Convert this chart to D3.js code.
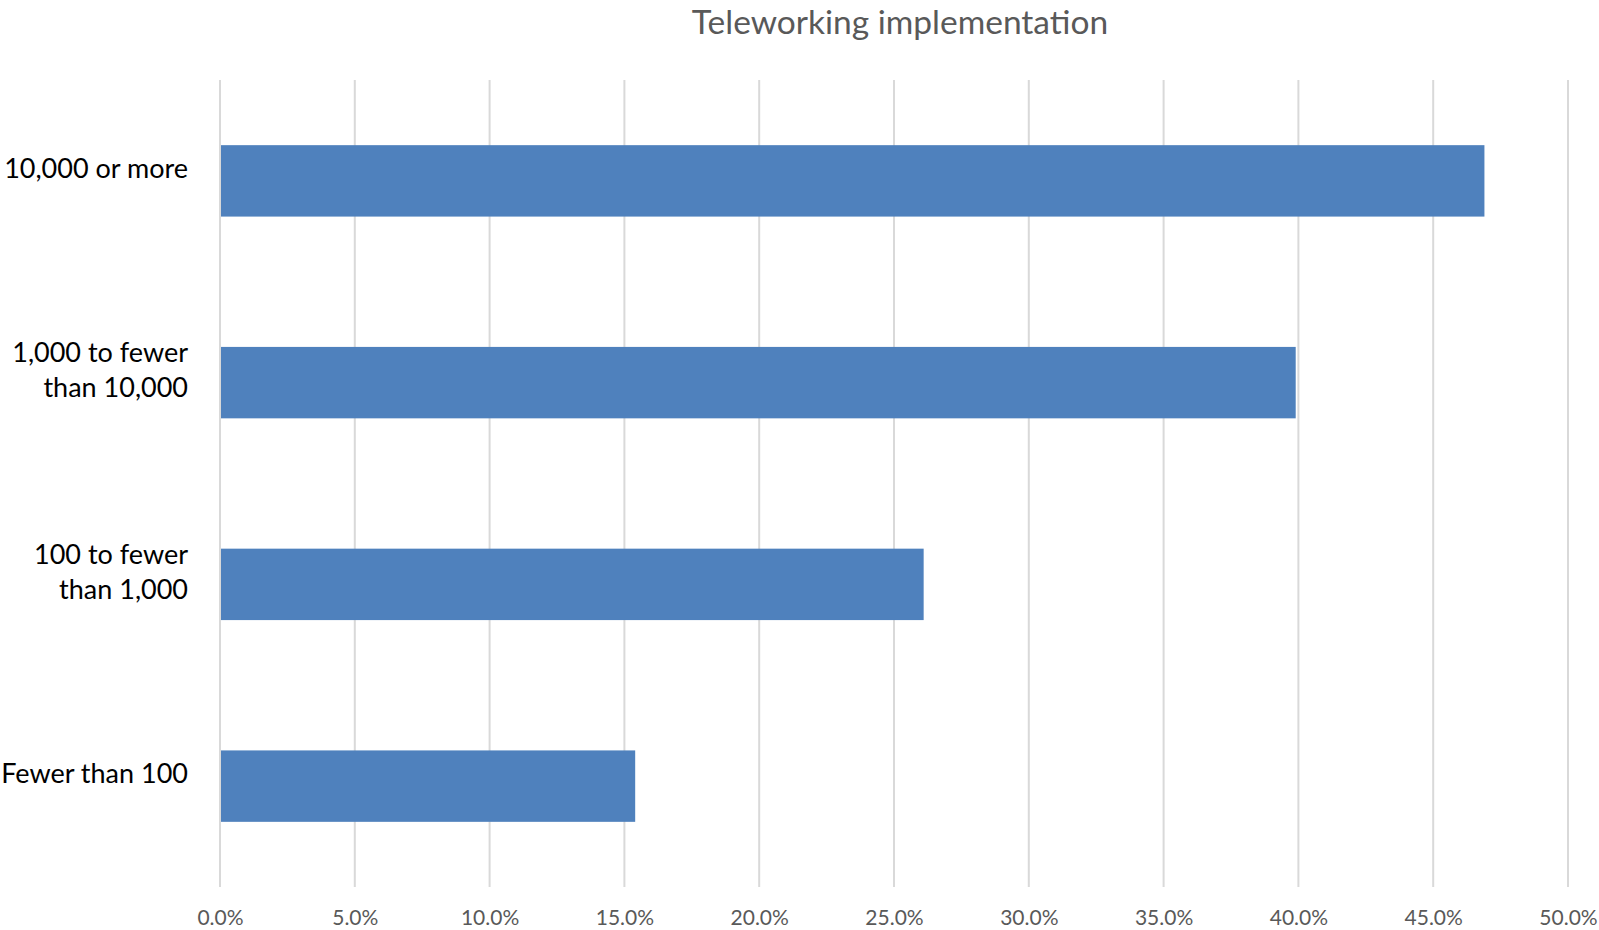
<!DOCTYPE html>
<html>
<head>
<meta charset="utf-8">
<script src="https://cdn.jsdelivr.net/npm/d3@7"></script>
<style>
  html, body { margin: 0; padding: 0; background: #fff; }
  svg { display: block; }
</style>
</head>
<body>
<svg id="chart" width="1599" height="930"></svg>
<script>
// Company size categories (top to bottom) and share of firms with teleworking
const categories = [
  ["10,000 or more"],
  ["1,000 to fewer", "than 10,000"],
  ["100 to fewer", "than 1,000"],
  ["Fewer than 100"]
];
const values = [0.469, 0.399, 0.261, 0.154];
const tickValues = [0, 0.05, 0.10, 0.15, 0.20, 0.25, 0.30, 0.35, 0.40, 0.45, 0.50];
const title = "Teleworking implementation";

const svg = d3.select("#chart");
const margin = { left: 220, right: 31, top: 80, bottom: 43 };
const W = 1599, H = 930;

const x = d3.scaleLinear()
  .domain([0, 0.5])
  .range([margin.left, W - margin.right]);

const y = d3.scaleBand()
  .domain(d3.range(categories.length))
  .range([margin.top, H - margin.bottom])
  .paddingInner(0.646)
  .paddingOuter(0.323);

// Title
svg.append("text")
  .attr("x", 900)
  .attr("y", 34)
  .attr("text-anchor", "middle")
  .attr("font-family", "Lato, 'Open Sans', sans-serif")
  .attr("font-size", 33.5)
  .attr("fill", "#595959")
  .text(title);

// Vertical gridlines
svg.append("g")
  .selectAll("line")
  .data(tickValues)
  .join("line")
  .attr("x1", d => x(d))
  .attr("x2", d => x(d))
  .attr("y1", margin.top)
  .attr("y2", H - margin.bottom)
  .attr("stroke", "#d9d9d9")
  .attr("stroke-width", 2);

// Bottom tick labels
const xAxis = d3.axisBottom(x)
  .tickValues(tickValues)
  .tickFormat(d3.format(".1%"))
  .tickSize(0)
  .tickPadding(0);

const gx = svg.append("g")
  .attr("transform", `translate(0,${H - margin.bottom})`)
  .call(xAxis);
gx.select(".domain").remove();
gx.selectAll("text")
  .attr("y", 38)
  .attr("dy", null)
  .attr("font-family", "Lato, 'Open Sans', sans-serif")
  .attr("font-size", 21)
  .attr("fill", "#595959");

// Bars
svg.append("g")
  .selectAll("rect")
  .data(values)
  .join("rect")
  .attr("x", x(0) + 1)
  .attr("y", (d, i) => y(i))
  .attr("width", d => x(d) - x(0) - 1)
  .attr("height", y.bandwidth())
  .attr("fill", "#4f81bd");

// Category labels, right-aligned left of the plot
const lineH = 35;
const labels = svg.append("g")
  .selectAll("text")
  .data(categories)
  .join("text")
  .attr("text-anchor", "end")
  .attr("font-family", "Lato, 'Open Sans', sans-serif")
  .attr("font-size", 27)
  .attr("fill", "#000");

labels.each(function (lines, i) {
  const cy = y(i) + y.bandwidth() / 2 - 12;
  const first = cy - (lines.length - 1) * lineH / 2 + 9;
  d3.select(this).selectAll("tspan")
    .data(lines)
    .join("tspan")
    .attr("x", 188)
    .attr("y", (d, k) => first + k * lineH)
    .text(d => d);
});
</script>
</body>
</html>
